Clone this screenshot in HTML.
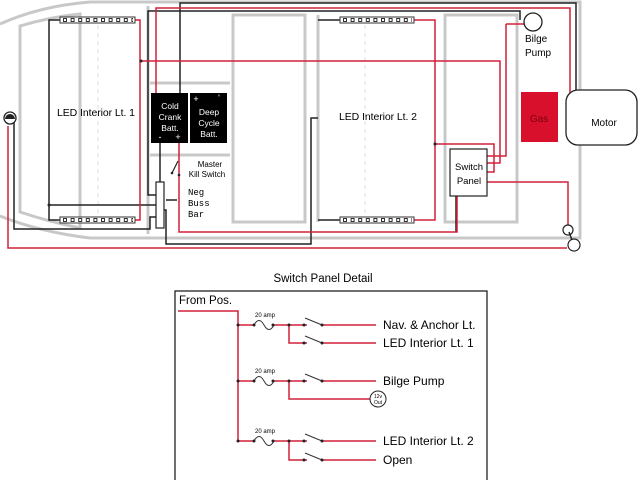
<!DOCTYPE html>
<html><head><meta charset="utf-8"><style>
html,body{margin:0;padding:0;background:#fff;}
svg{display:block;font-family:"Liberation Sans",sans-serif;}
</style></head><body>
<svg width="640" height="480" viewBox="0 0 640 480" xmlns="http://www.w3.org/2000/svg">
<g fill="none" stroke="#c8c8c8" stroke-width="3">
<path d="M0,24 Q40,6 90,2 L580,2 L580,238 L90,238 Q40,232 0,216"/>
<path d="M20,26 Q50,17 80,14 L80,228 Q50,222 20,212 Z"/>
<line x1="80" y1="14" x2="80" y2="228"/>
<line x1="148" y1="6" x2="148" y2="234"/>
<line x1="150" y1="83" x2="230" y2="83"/>
<line x1="150" y1="155" x2="230" y2="155"/>
<rect x="233" y="15" width="72" height="207"/>
<rect x="445" y="15" width="72" height="207"/>
<line x1="318" y1="15" x2="318" y2="222"/>
</g>
<g fill="none" stroke="#ddd" stroke-width="1" stroke-dasharray="4,4">
<line x1="98" y1="25" x2="98" y2="215"/>
<line x1="365" y1="25" x2="365" y2="215"/>
</g>
<g fill="none" stroke="#222" stroke-width="1.5">
<path d="M60,20 H49 V220 H60"/>
<path d="M49,205 H158"/>
<path d="M158,195 H148 V11 H520 V20"/>
<path d="M180,93 V3 H576 V95"/>
<path d="M160,140 V182"/>
<path d="M166,200 H177"/>
<path d="M164,210 H166 V244 H311 V118 H318"/>
<path d="M156,217 H150 V229 H14 V122"/>
<path d="M340,20 H318 M340,220 H318"/>
<path d="M456,196 V232"/>
</g>
<g fill="none" stroke="#d4203c" stroke-width="1.5">
<path d="M156,93 V8 H570 V95"/>
<path d="M135,20 H140 V220 H135"/>
<path d="M140,61 H500 V163 H487"/>
<path d="M179,137 V232 H457 V196"/>
<path d="M414,20 H435 V220 H414"/>
<path d="M435,144 H494 V172 H487"/>
<path d="M506,24 H524 M506,24 V156 H487"/>
<path d="M487,182 H568 V225"/>
<path d="M8,126 V248 H567"/>
</g>
<g fill="#222"><circle cx="141" cy="61" r="1.5"/><circle cx="435" cy="144" r="1.5"/><circle cx="49" cy="205" r="1.5"/></g>
<g fill="#fff" stroke="#333" stroke-width="1">
<rect x="60" y="17" width="75" height="6"/><rect x="60" y="217" width="75" height="6"/>
<rect x="340" y="17" width="74" height="6"/><rect x="340" y="217" width="74" height="6"/>
</g>
<g fill="none" stroke="#333" stroke-width="4" stroke-dasharray="4,3.6">
<line x1="63" y1="20" x2="133" y2="20"/><line x1="63" y1="220" x2="133" y2="220"/>
<line x1="343" y1="20" x2="412" y2="20"/><line x1="343" y1="220" x2="412" y2="220"/>
</g>
<g fill="none" stroke="#fff" stroke-width="2" stroke-dasharray="2,5.6">
<line x1="64" y1="20" x2="133" y2="20"/><line x1="64" y1="220" x2="133" y2="220"/>
<line x1="344" y1="20" x2="412" y2="20"/><line x1="344" y1="220" x2="412" y2="220"/>
</g>
<rect x="151" y="93" width="37" height="50" fill="#000"/>
<rect x="190" y="93" width="37" height="50" fill="#000"/>
<g fill="#fff" font-size="8.5" text-anchor="middle">
<text x="170" y="109">Cold</text><text x="170" y="120">Crank</text><text x="170" y="131">Batt.</text>
<text x="178" y="140" font-size="9">+</text><text x="160" y="140" font-size="9">-</text>
<text x="209" y="115">Deep</text><text x="209" y="126">Cycle</text><text x="209" y="137">Batt.</text>
<text x="196" y="102" font-size="9">+</text><text x="219" y="101" font-size="9">'</text>
</g>
<line x1="172" y1="173" x2="178" y2="161" stroke="#222" stroke-width="1.2"/>
<circle cx="172" cy="173" r="1.3" fill="#222"/><circle cx="179" cy="175" r="1.3" fill="#222"/>
<text x="210" y="167" font-size="8" text-anchor="middle">Master</text>
<text x="207" y="177" font-size="8" text-anchor="middle">Kill Switch</text>
<rect x="156" y="182" width="8" height="46" fill="#fff" stroke="#222" stroke-width="1.2"/>
<g font-family="Liberation Mono,monospace" font-size="9"><text x="188" y="195">Neg</text><text x="188" y="206">Buss</text><text x="188" y="217">Bar</text></g>
<text x="57" y="116" font-size="10.5" textLength="78">LED Interior Lt. 1</text>
<text x="339" y="120" font-size="10.5" textLength="78">LED Interior Lt. 2</text>
<circle cx="10" cy="118" r="6" fill="#fff" stroke="#222" stroke-width="1.3"/>
<path d="M5,119 A5,5 0 0 1 15,119 Z" fill="#222"/>
<rect x="450" y="149" width="37" height="47" fill="#fff" stroke="#222" stroke-width="1.2"/>
<text x="469" y="170" font-size="9.5" text-anchor="middle">Switch</text>
<text x="469" y="184" font-size="9.5" text-anchor="middle">Panel</text>
<circle cx="533" cy="22" r="9" fill="#fff" stroke="#222" stroke-width="1.3"/>
<text x="525" y="42" font-size="10">Bilge</text><text x="525" y="56" font-size="10">Pump</text>
<rect x="521" y="92" width="37" height="50" fill="#d8102c"/>
<text x="539" y="122" font-size="10" text-anchor="middle" fill="#7a0010">Gas</text>
<rect x="566" y="90" width="71" height="55" rx="12" fill="#fff" stroke="#222" stroke-width="1.3"/>
<text x="604" y="126" font-size="10" text-anchor="middle">Motor</text>
<circle cx="568" cy="230" r="5" fill="#fff" stroke="#222" stroke-width="1.2"/>
<circle cx="574" cy="245" r="6" fill="#fff" stroke="#222" stroke-width="1.2"/>
<line x1="569" y1="232" x2="572" y2="240" stroke="#222" stroke-width="1.5"/>
<text x="323" y="282" font-size="11.5" text-anchor="middle">Switch Panel Detail</text>
<rect x="175" y="291" width="312" height="195" fill="none" stroke="#222" stroke-width="1.3"/>
<text x="179" y="304" font-size="11.5">From Pos.</text>
<g fill="none" stroke="#d4203c" stroke-width="1.5">
<path d="M178,311 H238 V441"/>
<path d="M238,325 H253 M273,325 H307 M322,325 H376 M289,325 V343 H307 M322,343 H376"/>
<path d="M238,381 H253 M273,381 H307 M322,381 H376 M289,381 V399 H370"/>
<path d="M238,441 H253 M273,441 H307 M322,441 H376 M289,441 V460 H307 M322,460 H376"/>
</g>
<g fill="none" stroke="#333" stroke-width="1">
<path d="M254,325 Q259,316 264,325 T274,325"/>
<path d="M254,381 Q259,372 264,381 T274,381"/>
<path d="M254,441 Q259,432 264,441 T274,441"/>
<path d="M305,318 L322,325 M305,336 L322,343 M305,374 L322,381 M305,434 L322,441 M305,453 L322,460"/>
</g>
<g fill="#222">
<circle cx="238" cy="325" r="1.5"/><circle cx="238" cy="381" r="1.5"/><circle cx="238" cy="441" r="1.5"/>
<circle cx="254" cy="325" r="1.5"/><circle cx="273" cy="325" r="1.5"/><circle cx="289" cy="325" r="1.5"/><circle cx="304" cy="325" r="1.5"/><circle cx="322" cy="325" r="1.5"/><circle cx="304" cy="343" r="1.5"/><circle cx="322" cy="343" r="1.5"/>
<circle cx="254" cy="381" r="1.5"/><circle cx="273" cy="381" r="1.5"/><circle cx="289" cy="381" r="1.5"/><circle cx="304" cy="381" r="1.5"/><circle cx="322" cy="381" r="1.5"/>
<circle cx="254" cy="441" r="1.5"/><circle cx="273" cy="441" r="1.5"/><circle cx="289" cy="441" r="1.5"/><circle cx="304" cy="441" r="1.5"/><circle cx="322" cy="441" r="1.5"/><circle cx="304" cy="460" r="1.5"/><circle cx="322" cy="460" r="1.5"/>
</g>
<g font-size="6"><text x="255" y="317">20 amp</text><text x="255" y="373">20 amp</text><text x="255" y="433">20 amp</text></g>
<g font-size="12">
<text x="383" y="329">Nav. &amp; Anchor Lt.</text>
<text x="383" y="347">LED Interior Lt. 1</text>
<text x="383" y="385">Bilge Pump</text>
<text x="383" y="445">LED Interior Lt. 2</text>
<text x="383" y="464">Open</text>
</g>
<circle cx="378" cy="399" r="8" fill="#fff" stroke="#222" stroke-width="1"/>
<text x="378" y="398" font-size="5" text-anchor="middle">12v</text>
<text x="378" y="404" font-size="5" text-anchor="middle">Out</text>
</svg>
</body></html>
